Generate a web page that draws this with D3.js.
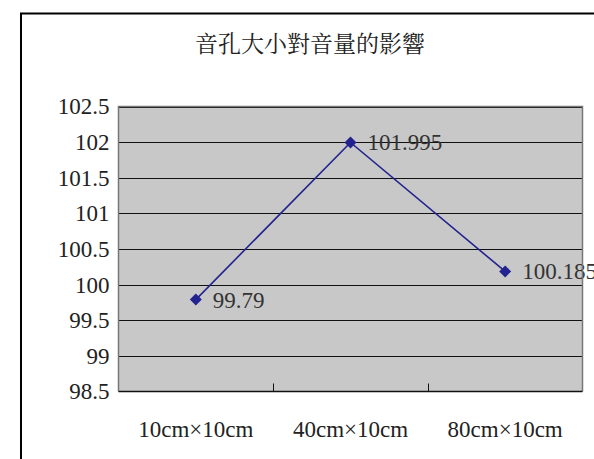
<!DOCTYPE html>
<html><head><meta charset="utf-8">
<script src="https://cdn.jsdelivr.net/npm/d3@7/dist/d3.min.js"></script>
<style>html,body{margin:0;padding:0;background:#fff;}svg{display:block;}</style>
</head><body>
<script>
const title = "音孔大小對音量的影響";
const categories = ["10cm×10cm", "40cm×10cm", "80cm×10cm"];
const values = [99.79, 101.995, 100.185];
const yTicks = [98.5, 99, 99.5, 100, 100.5, 101, 101.5, 102, 102.5];

const SERIF = '"Liberation Serif", "Times New Roman", serif';
const W = 594, H = 459;
const svg = d3.select("body").append("svg").attr("width", W).attr("height", H);

const plot = {left: 118.5, top: 106.5, right: 582.5, bottom: 391.5};

// outer chart frame
svg.append("rect").attr("x", 21).attr("y", 13.5).attr("width", 600).attr("height", 480)
  .attr("fill", "#fff").attr("stroke", "#000").attr("stroke-width", 2);

svg.append("text").attr("x", 310).attr("y", 52).attr("text-anchor", "middle")
  .style("font-family", '"Noto Serif CJK TC"')
  .style("font-size", "23px").attr("fill", "#222").text(title);

const x = d3.scaleBand().domain(categories).range([plot.left, plot.right]);
const y = d3.scaleLinear().domain([98.5, 102.5]).range([plot.bottom, plot.top]);

svg.append("rect").attr("x", plot.left).attr("y", plot.top)
  .attr("width", plot.right - plot.left).attr("height", plot.bottom - plot.top)
  .attr("fill", "#c8c8c8");

// gridlines
svg.append("g").selectAll("line").data(yTicks.slice(1)).join("line")
  .attr("x1", plot.left).attr("x2", plot.right)
  .attr("y1", d => Math.round(y(d)) + 0.5).attr("y2", d => Math.round(y(d)) + 0.5)
  .attr("stroke", "#111").attr("stroke-width", 1);

// y axis
const yAxis = svg.append("g").attr("transform", `translate(${plot.left},0)`)
  .call(d3.axisLeft(y).tickValues(yTicks).tickSize(0).tickPadding(9).tickFormat(d => String(d)));
yAxis.select(".domain").remove();
yAxis.selectAll("text").style("font-family", SERIF).style("font-size", "23px").attr("fill", "#222");

// x axis
const xAxis = svg.append("g").attr("transform", `translate(0,${plot.bottom})`)
  .call(d3.axisBottom(x).tickSize(0).tickPadding(29));
xAxis.select(".domain").remove();
xAxis.selectAll("text").style("font-family", SERIF).style("font-size", "23px").attr("fill", "#222");

// category boundary ticks (inside)
svg.append("g").selectAll("line").data(categories.slice(1)).join("line")
  .attr("x1", d => Math.round(x(d)) + 0.5).attr("x2", d => Math.round(x(d)) + 0.5)
  .attr("y1", plot.bottom).attr("y2", plot.bottom - 8)
  .attr("stroke", "#111");

// line
const pts = categories.map((c, i) => [x(c) + x.bandwidth() / 2, y(values[i])]);
svg.append("path").attr("d", d3.line()(pts)).attr("fill", "none")
  .attr("stroke", "#23238f").attr("stroke-width", 1.6);

svg.append("g").selectAll("path").data(pts).join("path")
  .attr("transform", d => `translate(${d[0]},${d[1]}) rotate(45)`)
  .attr("d", d3.symbol(d3.symbolSquare, 72)())
  .attr("fill", "#23238f");

svg.append("g").selectAll("text").data(values).join("text")
  .attr("x", (d, i) => pts[i][0] + 17).attr("y", (d, i) => pts[i][1] + 8)
  .style("font-family", SERIF).style("font-size", "23px").attr("fill", "#333").text(d => String(d));

// plot border
svg.append("path")
  .attr("d", `M${plot.left},${plot.bottom}V${plot.top}H${plot.right}V${plot.bottom}`)
  .attr("fill", "none").attr("stroke", "#777").attr("stroke-width", 1.5);
svg.append("line").attr("x1", plot.left).attr("x2", plot.right)
  .attr("y1", plot.bottom).attr("y2", plot.bottom).attr("stroke", "#111").attr("stroke-width", 1.5);
</script>
</body></html>
